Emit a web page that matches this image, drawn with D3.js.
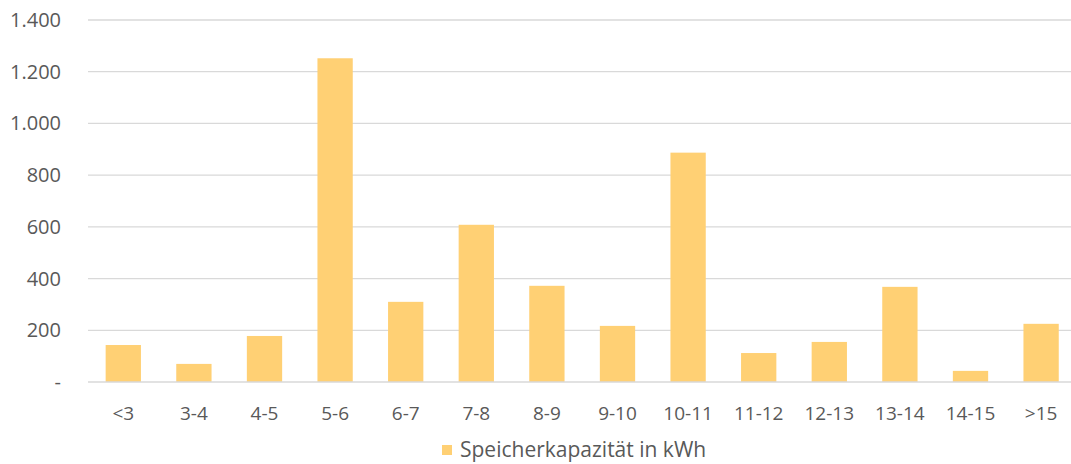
<!DOCTYPE html>
<html><head><meta charset="utf-8">
<script src="https://cdn.jsdelivr.net/npm/d3@7"></script>
<style>body{margin:0;background:#fff}text{font-family:"Open Sans",Lato,sans-serif;fill:#595959}</style>
</head><body><svg id="c" width="1071" height="464"></svg>
<script>
const categories = ["<3","3-4","4-5","5-6","6-7","7-8","8-9","9-10","10-11","11-12","12-13","13-14","14-15",">15"];
const values = [143,70,178,1252,310,608,372,217,887,112,155,368,43,225];
const yTicks = [0,200,400,600,800,1000,1200,1400];
const seriesName = "Speicherkapazität in kWh";

const svg = d3.select("#c");
const m = {left:88,right:1071,top:20,bottom:382};
const step = 70.6;
const x = d3.scaleBand().domain(categories).range([m.left, m.left + step*categories.length]).paddingInner(0.5).paddingOuter(0.25);
const y = d3.scaleLinear().domain([0,1400]).range([m.bottom,m.top]);
const fmt = v => v===0 ? "-" : d3.format(",")(v).replace(/,/g,".");

svg.append("g").selectAll("line").data(yTicks.filter(d=>d>0)).join("line")
  .attr("x1",m.left).attr("x2",m.right).attr("y1",d=>y(d)).attr("y2",d=>y(d))
  .attr("stroke","#d9d9d9").attr("stroke-width",1.3);

svg.append("g").selectAll("rect").data(values).join("rect")
  .attr("x",(d,i)=>x(categories[i])).attr("width",x.bandwidth())
  .attr("y",d=>y(d)).attr("height",d=>y(0)-y(d)).attr("fill","#ffd074");

svg.append("line").attr("x1",m.left).attr("x2",m.right).attr("y1",y(0)).attr("y2",y(0))
  .attr("stroke","#d9d9d9").attr("stroke-width",1.5);

svg.append("g").selectAll("text").data(yTicks).join("text")
  .attr("x",61).attr("y",d=>y(d)).attr("dy","0.35em").attr("text-anchor","end")
  .attr("font-size",20).text(fmt);

svg.append("g").selectAll("text").data(categories).join("text")
  .attr("x",d=>x(d)+x.bandwidth()/2).attr("y",413).attr("dy","0.35em").attr("text-anchor","middle")
  .attr("font-size",19).text(d=>d);

const lg = svg.append("g");
lg.append("rect").attr("x",442).attr("y",445).attr("width",10).attr("height",10).attr("fill","#ffd074");
lg.append("text").attr("x",460).attr("y",450).attr("dy","0.35em").attr("font-size",21).text(seriesName);
</script></body></html>
